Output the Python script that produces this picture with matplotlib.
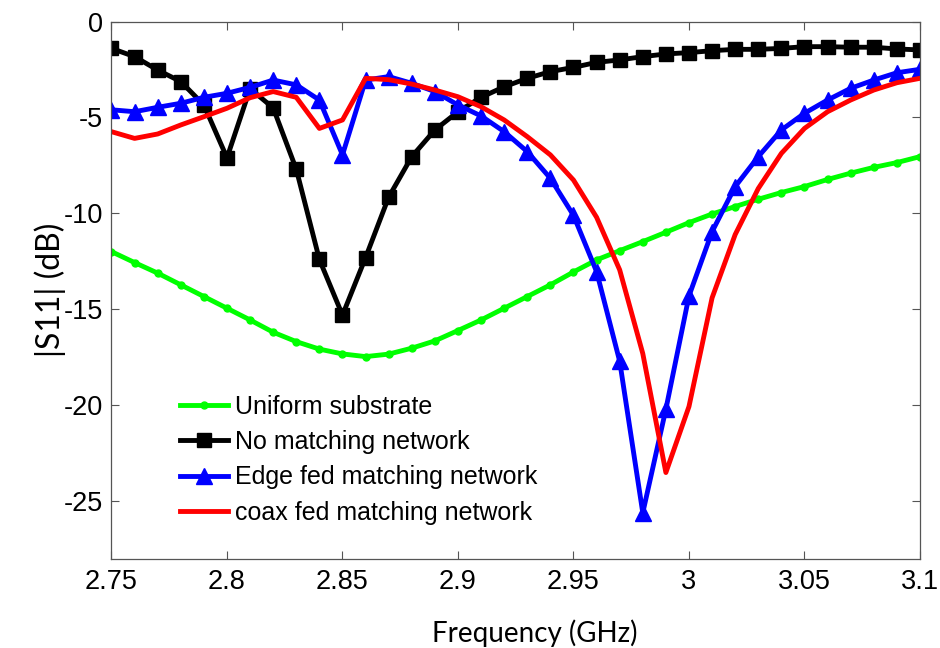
import matplotlib
matplotlib.use("Agg")
import matplotlib.pyplot as plt

# Frequency sweep (GHz)
freq = [2.75, 2.76, 2.77, 2.78, 2.79, 2.80, 2.81, 2.82, 2.83, 2.84, 2.85,
        2.86, 2.87, 2.88, 2.89, 2.90, 2.91, 2.92, 2.93, 2.94, 2.95,
        2.96, 2.97, 2.98, 2.99, 3.00, 3.01, 3.02, 3.03, 3.04, 3.05,
        3.06, 3.07, 3.08, 3.09, 3.10]

# |S11| in dB for each configuration
uniform_substrate = [-11.99, -12.56, -13.11, -13.72, -14.33, -14.94, -15.55, -16.19, -16.68, -17.07, -17.32,
                     -17.46, -17.33, -17.02, -16.64, -16.10, -15.55, -14.94, -14.33, -13.72, -13.05,
                     -12.42, -11.94, -11.47, -10.98, -10.48, -10.03, -9.64, -9.26, -8.91, -8.60,
                     -8.23, -7.90, -7.60, -7.35, -7.04]

no_matching = [-1.40, -1.83, -2.53, -3.13, -4.35, -7.10, -3.50, -4.50, -7.70, -12.40, -15.30,
               -12.30, -9.15, -7.04, -5.65, -4.70, -3.95, -3.40, -2.96, -2.61, -2.39,
               -2.13, -2.00, -1.83, -1.69, -1.62, -1.52, -1.45, -1.45, -1.40, -1.31,
               -1.31, -1.34, -1.34, -1.43, -1.48]

edge_fed = [-4.60, -4.70, -4.47, -4.26, -3.95, -3.74, -3.43, -3.05, -3.30, -4.09, -6.95,
            -3.05, -2.87, -3.22, -3.65, -4.35, -4.92, -5.74, -6.78, -8.17, -10.10,
            -13.03, -17.70, -25.60, -20.20, -14.30, -10.95, -8.60, -7.04, -5.65, -4.78,
            -4.09, -3.48, -3.05, -2.67, -2.49]

coax_fed = [-5.74, -6.09, -5.86, -5.39, -4.96, -4.52, -3.97, -3.65, -3.95, -5.57, -5.13,
            -2.96, -3.03, -3.26, -3.57, -3.92, -4.44, -5.13, -6.00, -6.95, -8.26,
            -10.20, -12.94, -17.30, -23.50, -20.06, -14.40, -11.10, -8.70, -6.87, -5.57,
            -4.70, -4.09, -3.57, -3.19, -2.96]

series_labels = ["Uniform substrate", "No matching network",
                 "Edge fed matching network", "coax fed matching network"]

x_ticks = [2.75, 2.8, 2.85, 2.9, 2.95, 3.0, 3.05, 3.1]
x_tick_labels = ["2.75", "2.8", "2.85", "2.9", "2.95", "3", "3.05", "3.1"]
y_ticks = [0, -5, -10, -15, -20, -25]
y_tick_labels = ["0", "-5", "-10", "-15", "-20", "-25"]

fig = plt.figure(figsize=(9.4, 6.48), dpi=100)
ax = fig.add_axes([0.1186, 0.1375, 0.8601, 0.8293])

ax.plot(freq, uniform_substrate, color="#00ff00", lw=3.5, marker="o", ms=5,
        label=series_labels[0])
ax.plot(freq, no_matching, color="black", lw=3.5, marker="s", ms=9.5,
        label=series_labels[1])
ax.plot(freq, edge_fed, color="#0000ff", lw=3.5, marker="^", ms=11,
        label=series_labels[2])
ax.plot(freq, coax_fed, color="#ff0000", lw=3.5, label=series_labels[3])

ax.set_xlim(2.75, 3.1)
ax.set_ylim(-28, 0)
ax.set_xticks(x_ticks)
ax.set_xticklabels(x_tick_labels)
ax.set_yticks(y_ticks)
ax.set_yticklabels(y_tick_labels)

tick_font = "Liberation Sans"
for lab in ax.get_xticklabels() + ax.get_yticklabels():
    lab.set_fontfamily(tick_font)
    lab.set_fontsize(19.5)

ax.tick_params(direction="in", length=6, width=0.8, color="#555555",
               top=True, right=True)
ax.tick_params(axis="x", pad=7)
ax.tick_params(axis="y", pad=6)
for sp in ax.spines.values():
    sp.set_color("#555555")
    sp.set_linewidth(0.9)

ax.set_xlabel("Frequency (GHz)", fontfamily="Lato", fontsize=20)
ax.xaxis.set_label_coords(0.523, -0.113)
ax.xaxis.label.set_verticalalignment("top")
ax.set_ylabel("|S11| (dB)", fontfamily="Lato", fontsize=23, labelpad=-1.5)

leg = ax.legend(loc="upper left", bbox_to_anchor=(0.085, 0.305), frameon=False,
                borderpad=0, borderaxespad=0, handlelength=1.9,
                handletextpad=0.3, labelspacing=0.45,
                prop={"family": tick_font, "size": 18})

fig.savefig("out.png", dpi=100)
